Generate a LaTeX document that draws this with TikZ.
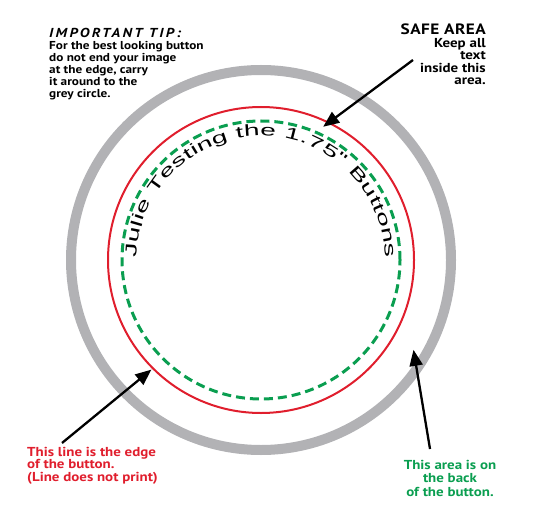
\documentclass[tikz,border=0pt]{standalone}
\usepackage{fontspec}
\setmainfont{PT Sans}[FakeStretch=1.15]
\newfontfamily\tipfont[FakeStretch=1.15,LetterSpace=18]{PT Sans}
\newfontfamily\capsfont[FakeStretch=1.15,LetterSpace=3]{PT Sans}
\newfontfamily\arcfont[FakeStretch=1.75]{Liberation Sans}
\usetikzlibrary{arrows.meta}
\usetikzlibrary{decorations.text}
\definecolor{rimgrey}{RGB}{178,178,181}
\definecolor{edgered}{RGB}{224,30,45}
\definecolor{safegreen}{RGB}{10,158,80}

\begin{document}
\begin{tikzpicture}[x=1pt,y=1pt,
  note/.style={font=\bfseries\fontsize{11.5}{12}\selectfont, inner sep=0pt},
  pointer/.style={line width=2.3pt, -{Triangle[length=16pt,width=13pt]}}]
  \useasboundingbox (0,0) rectangle (540,520);
  \coordinate (c) at (261,260);
  % the three rings
  \draw[rimgrey, line width=10pt] (c) circle[radius=190];
  \draw[edgered, line width=2pt] (c) circle[radius=153];
  \draw[safegreen, line width=3pt, dash pattern=on 9pt off 5pt] (c) circle[radius=139];
  % curved text
  \path[decorate, decoration={text along path, text align={fit to path},
    text={|\arcfont\fontsize{16}{16}\selectfont|Julie Testing the 1.75" Buttons}}]
    ([shift={(179:124)}]c) arc[start angle=179, end angle=1, radius=124];
  % notes
  \node[note, anchor=north west, align=left] (tip) at (49,492)
    {{\tipfont\itshape\fontsize{13}{14}\selectfont IMPORTANT TIP:}\\For the best looking button\\do not end your image\\at the edge, carry\\it around to the\\grey circle.};
  \node[note, font=\bfseries\fontsize{13}{12.4}\selectfont, anchor=north east, align=right] (safe) at (486,496)
    {{\capsfont\fontsize{15}{15}\selectfont SAFE AREA}\\Keep all\\text\\inside this\\area.};
  \node[note, font=\bfseries\fontsize{13}{12.3}\selectfont, text=edgered, anchor=north west, align=left] (edge) at (27,73)
    {This line is the edge\\of the button.\\(Line does not print)};
  \node[note, font=\bfseries\fontsize{13}{13.5}\selectfont, text=safegreen, anchor=north, align=center] (back) at (450,60)
    {This area is on\\the back\\of the button.};
  % arrows
  \coordinate (safetail) at (413,460);
  \coordinate (safetip) at ([shift={(65:147)}]c);
  \coordinate (edgetail) at (62,77);
  \coordinate (edgetip) at ([shift={(225:155)}]c);
  \coordinate (backtail) at (430,71);
  \coordinate (backtip) at ([shift={(-30.5:177)}]c);
  \draw[pointer] (safetail) -- (safetip);
  \draw[pointer] (edgetail) -- (edgetip);
  \draw[pointer] (backtail) -- (backtip);
\end{tikzpicture}
\end{document}
